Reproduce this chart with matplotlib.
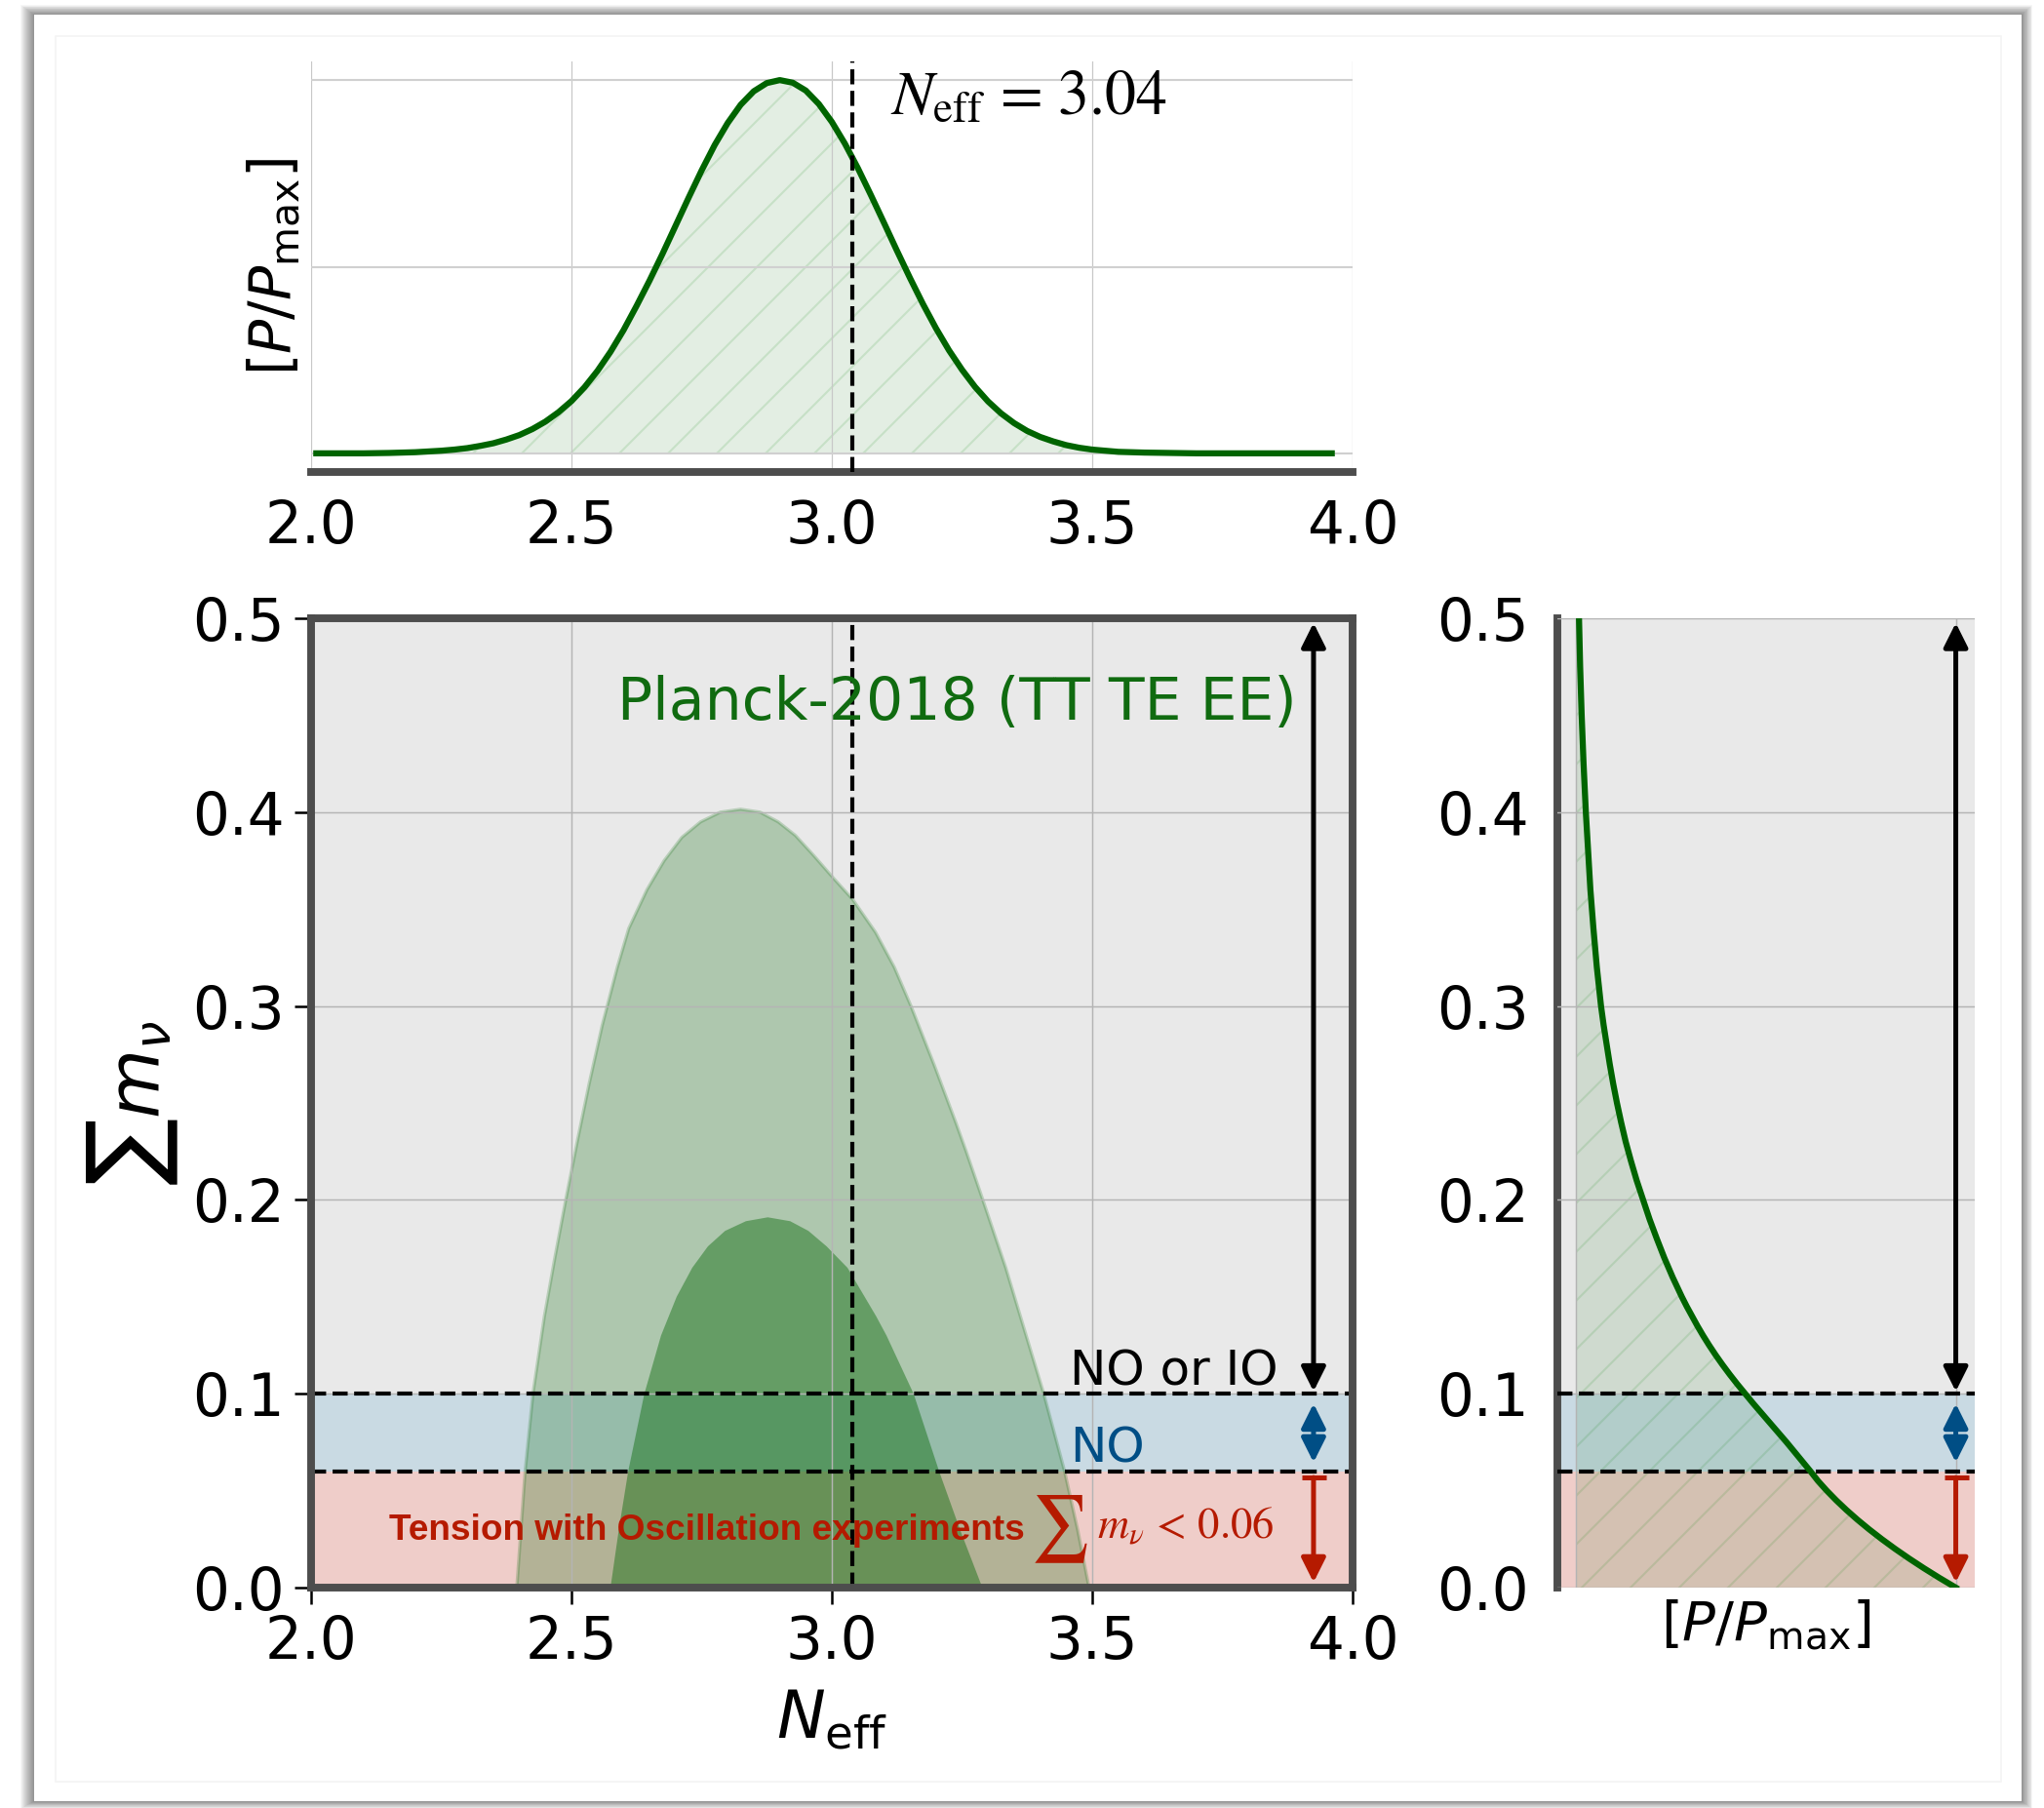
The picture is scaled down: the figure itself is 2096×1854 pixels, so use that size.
import matplotlib
matplotlib.use("Agg")
import matplotlib.pyplot as plt
from matplotlib.patches import Rectangle

plt.rcParams["hatch.linewidth"] = 0.5

# ---------------------------------------------------------------- data
neff_ticks = [2.0, 2.5, 3.0, 3.5, 4.0]
mnu_ticks = [0.0, 0.1, 0.2, 0.3, 0.4, 0.5]
neff_standard = 3.04
band_no = [0.06, 0.10]      # normal ordering only
band_tension = [0.0, 0.06]  # excluded by oscillation experiments
mnu_top = 0.5

# 1D posterior of N_eff (normalised to peak)
neff_x = [2.01, 2.10, 2.15, 2.20, 2.225, 2.25, 2.275, 2.30, 2.325, 2.35,
          2.375, 2.40, 2.425, 2.45, 2.475, 2.50, 2.525, 2.55, 2.575, 2.60,
          2.625, 2.65, 2.675, 2.70, 2.725, 2.75, 2.775, 2.80, 2.825, 2.85,
          2.875, 2.90, 2.925, 2.95, 2.975, 3.00, 3.025, 3.05, 3.075, 3.10,
          3.125, 3.15, 3.175, 3.20, 3.225, 3.25, 3.275, 3.30, 3.325, 3.35,
          3.375, 3.40, 3.425, 3.45, 3.475, 3.50, 3.55, 3.60, 3.70, 3.80,
          3.90, 3.96]
neff_p = [0.000, 0.000, 0.001, 0.003, 0.005, 0.007, 0.010, 0.014, 0.020,
          0.027, 0.037, 0.049, 0.065, 0.085, 0.110, 0.140, 0.177, 0.221,
          0.272, 0.330, 0.395, 0.463, 0.535, 0.610, 0.685, 0.758, 0.826,
          0.885, 0.934, 0.970, 0.992, 1.000, 0.993, 0.972, 0.936, 0.888,
          0.830, 0.764, 0.692, 0.618, 0.543, 0.470, 0.400, 0.335, 0.276,
          0.224, 0.178, 0.139, 0.107, 0.081, 0.060, 0.044, 0.032, 0.022,
          0.015, 0.010, 0.004, 0.002, 0.000, 0.000, 0.000, 0.000]

# 1D posterior of the summed neutrino mass (normalised to peak)
mnu_y = [0.000, 0.005, 0.010, 0.015, 0.020, 0.025, 0.030, 0.035, 0.040,
         0.045, 0.050, 0.055, 0.060, 0.065, 0.070, 0.075, 0.080, 0.085,
         0.090, 0.095, 0.100, 0.105, 0.110, 0.115, 0.120, 0.125, 0.130,
         0.135, 0.140, 0.145, 0.150, 0.160, 0.170, 0.180, 0.190, 0.200,
         0.210, 0.220, 0.230, 0.240, 0.250, 0.260, 0.270, 0.280, 0.290,
         0.300, 0.320, 0.340, 0.360, 0.380, 0.400, 0.425, 0.450, 0.475,
         0.500]
mnu_p = [1.000, 0.957, 0.916, 0.877, 0.840, 0.805, 0.772, 0.741, 0.712,
         0.685, 0.660, 0.637, 0.617, 0.596, 0.575, 0.554, 0.532, 0.510,
         0.488, 0.466, 0.445, 0.424, 0.404, 0.385, 0.367, 0.350, 0.334,
         0.319, 0.305, 0.291, 0.278, 0.254, 0.232, 0.212, 0.193, 0.176,
         0.159, 0.144, 0.130, 0.118, 0.107, 0.097, 0.088, 0.080, 0.072,
         0.065, 0.054, 0.045, 0.037, 0.031, 0.025, 0.019, 0.014, 0.010,
         0.007]

# 2D credible regions in the (N_eff, sum m_nu) plane
c95_neff = [2.395, 2.403, 2.411, 2.426, 2.448, 2.468, 2.489, 2.511, 2.534,
            2.559, 2.588, 2.610, 2.645, 2.678, 2.712, 2.748, 2.786, 2.825,
            2.862, 2.897, 2.930, 2.964, 3.003, 3.040, 3.084, 3.120, 3.152,
            3.196, 3.238, 3.258, 3.290, 3.334, 3.362, 3.407, 3.447, 3.472,
            3.494]
c95_mnu = [0.000, 0.030, 0.060, 0.100, 0.140, 0.170, 0.200, 0.230, 0.260,
           0.290, 0.320, 0.340, 0.360, 0.375, 0.387, 0.395, 0.400, 0.4015,
           0.400, 0.395, 0.388, 0.378, 0.366, 0.355, 0.338, 0.320, 0.300,
           0.270, 0.240, 0.225, 0.200, 0.165, 0.140, 0.100, 0.060, 0.030,
           0.000]
c68_neff = [2.575, 2.591, 2.609, 2.640, 2.672, 2.702, 2.732, 2.762, 2.795,
            2.835, 2.877, 2.920, 2.955, 2.990, 3.030, 3.063, 3.085, 3.105,
            3.157, 3.206, 3.246, 3.289]
c68_mnu = [0.000, 0.030, 0.060, 0.100, 0.130, 0.150, 0.165, 0.176, 0.184,
           0.189, 0.191, 0.189, 0.184, 0.176, 0.165, 0.150, 0.140, 0.130,
           0.100, 0.060, 0.030, 0.000]

# ---------------------------------------------------------------- style
GREEN = "#006400"
TXT_GREEN = "#106b10"
BG = "#e9e9e9"
BLUE_BAND = "#c9dae3"
RED_BAND = "#efcdc9"
BLUE = "#004e85"
RED = "#b51a00"
SPINE = "#4d4d4d"
GRID = "#b4b4b4"
TICK_FS = 14.3
LABEL_FS = 13.5

W, H, DPI = 2096, 1854, 300
fig = plt.figure(figsize=(W / DPI, H / DPI), dpi=DPI)
fig.patch.set_facecolor("white")


def px_rect(x0, y0, x1, y1, **kw):
    """Rectangle given in pixel coordinates measured from the top-left."""
    r = Rectangle((x0 / W, 1 - y1 / H), (x1 - x0) / W, (y1 - y0) / H,
                  transform=fig.transFigure, **kw)
    fig.patches.append(r)
    return r


# page with a soft drop shadow (heavier on the left)
for k in range(14, 0, -1):
    px_rect(35 - k * 1.0, 15 - k * 0.7, 2073 + k * 0.8, 1847 + k * 0.55,
            facecolor="black", edgecolor="none", alpha=0.035, zorder=-20)
px_rect(35, 15, 2073, 1847, facecolor="white", edgecolor="none", zorder=-10)
px_rect(57, 37, 2052, 1827, facecolor="none", edgecolor="#f4f4f4",
        lw=0.4, zorder=-9)

ax_top = fig.add_axes([319 / W, 1 - 484 / H, 1068 / W, 421 / H])
ax = fig.add_axes([319 / W, 1 - 1628 / H, 1068 / W, 994 / H])
ax_r = fig.add_axes([1597 / W, 1 - 1628 / H, 428 / W, 994 / H])

# ---------------------------------------------------------------- main panel
ax.set_facecolor(BG)
ax.set_xlim(neff_ticks[0], neff_ticks[-1])
ax.set_ylim(mnu_ticks[0], mnu_ticks[-1])
ax.set_xticks(neff_ticks)
ax.set_yticks(mnu_ticks)
ax.set_xticklabels([f"{v:.1f}" for v in neff_ticks])
ax.set_yticklabels([f"{v:.1f}" for v in mnu_ticks])
ax.tick_params(labelsize=TICK_FS, length=4, width=0.6, color="black",
               pad=2.5)
ax.grid(True, color=GRID, lw=0.35)
ax.set_axisbelow(False)
for s in ax.spines.values():
    s.set_linewidth(1.9)
    s.set_color(SPINE)
    s.set_zorder(6)

ax.axhspan(*band_tension, color=RED_BAND, lw=0, zorder=0.3)
ax.axhspan(*band_no, color=BLUE_BAND, lw=0, zorder=0.3)

ax.fill(c95_neff, c95_mnu, facecolor=GREEN, alpha=0.25, lw=0, zorder=1)
ax.plot(c95_neff, c95_mnu, color=GREEN, alpha=0.2, lw=0.8, zorder=1.1)
ax.fill(c68_neff, c68_mnu, facecolor=GREEN, alpha=0.42, lw=0, zorder=1.2)

ax.axhline(band_no[1], color="black", ls="--", lw=1.0, zorder=3)
ax.axhline(band_no[0], color="black", ls="--", lw=1.0, zorder=3)
ax.axvline(neff_standard, color="black", ls="--", lw=1.0, zorder=3)

ax.text(3.893, 0.4477, "Planck-2018 (TT TE EE)", color=TXT_GREEN,
        fontsize=14.4, ha="right", va="baseline", zorder=5)
ax.text(3.457, 0.1045, "NO or IO", color="black", fontsize=12,
        ha="left", va="baseline", zorder=5)
ax.text(3.457, 0.0644, "NO", color=BLUE, fontsize=12,
        ha="left", va="baseline", zorder=5)
t_math = ax.text(3.848, 0.0252, r"$m_\nu\,<\,0.06$", color=RED,
                 fontsize=10.7, math_fontfamily="stix", ha="right",
                 va="baseline", zorder=5)
t_sum = ax.annotate("\u2211", xy=(0, 0.5), xycoords=t_math,
                    xytext=(-1.5, -1.0), textcoords="offset points",
                    ha="right", va="center", color=RED, fontsize=11.5,
                    fontfamily="STIXSizeOneSym", zorder=5)
ax.annotate("Tension with Oscillation experiments", xy=(0, 0.5),
            xycoords=t_sum, xytext=(-1.5, 0), textcoords="offset points",
            ha="right", va="center", color=RED, fontsize=8.9,
            fontfamily="Liberation Sans", fontweight="bold", zorder=5)

ax.set_xlabel(r"$N_{\rm eff}$", fontsize=16, labelpad=4)
ax.set_ylabel(r"$\sum m_\nu$", fontsize=17.5, labelpad=3)


def range_arrows(a, xpos):
    kw = dict(mutation_scale=12.5, lw=1.2, shrinkA=0, shrinkB=0)
    a.annotate("", xy=(xpos, band_no[1] + 0.0012),
               xytext=(xpos, mnu_top - 0.0024),
               arrowprops=dict(arrowstyle="<|-|>", color="black", **kw),
               zorder=4)
    a.annotate("", xy=(xpos, band_no[1] - 0.0051),
               xytext=(xpos, band_no[0] + 0.0046),
               arrowprops=dict(arrowstyle="<|-|>", color=BLUE, **kw),
               zorder=4)
    a.annotate("", xy=(xpos, band_tension[0] + 0.0027),
               xytext=(xpos, band_tension[1] - 0.0032),
               arrowprops=dict(arrowstyle="-|>", color=RED, **kw),
               zorder=4)
    a.plot([xpos], [band_tension[1] - 0.0032], marker="_", ms=6, mew=1.2,
           color=RED, zorder=4)


range_arrows(ax, 3.925)

# ---------------------------------------------------------------- top panel
ax_top.set_xlim(neff_ticks[0], neff_ticks[-1])
ax_top.set_ylim(-0.05, 1.05)
ax_top.set_xticks(neff_ticks)
ax_top.set_xticklabels([f"{v:.1f}" for v in neff_ticks])
ax_top.set_yticks([0.0, 0.5, 1.0])
ax_top.set_yticklabels([])
ax_top.tick_params(axis="x", labelsize=TICK_FS, length=0, pad=6.5)
ax_top.tick_params(axis="y", length=0)
ax_top.grid(True, axis="x", color="#c8c8c8", lw=0.3)
ax_top.grid(True, axis="y", color="#d0d0d0", lw=0.5)
for side in ["top", "left", "right"]:
    ax_top.spines[side].set_visible(False)
ax_top.spines["bottom"].set_linewidth(1.9)
ax_top.spines["bottom"].set_color(SPINE)
ax_top.fill_between(neff_x, neff_p, 0, facecolor=(0, 0.4, 0, 0.11),
                    edgecolor=(0, 0.5, 0, 0.12), hatch="//", lw=0, zorder=1)
ax_top.plot(neff_x, neff_p, color=GREEN, lw=1.5, zorder=3)
ax_top.axvline(neff_standard, color="black", ls="--", lw=1.0, zorder=3)
ax_top.text(3.112, 0.911, r"$N_{\rm eff}$ = 3.04", fontsize=15.3,
            math_fontfamily="stix", fontfamily="STIXGeneral",
            ha="left", va="baseline")
ax_top.set_ylabel(r"$[P/P_{\rm max}]$", fontsize=14, labelpad=-1.3)

# ---------------------------------------------------------------- right panel
ax_r.set_facecolor(BG)
ax_r.set_xlim(-0.05, 1.05)
ax_r.set_ylim(mnu_ticks[0], mnu_ticks[-1])
ax_r.set_yticks(mnu_ticks)
ax_r.set_yticklabels([f"{v:.1f}" for v in mnu_ticks])
ax_r.set_xticks([0.0, 1.0])
ax_r.set_xticklabels([])
ax_r.tick_params(axis="y", labelsize=TICK_FS, length=0, pad=7)
ax_r.tick_params(axis="x", length=0)
ax_r.grid(True, color=GRID, lw=0.35)
ax_r.set_axisbelow(False)
for side in ["top", "bottom", "right"]:
    ax_r.spines[side].set_visible(False)
ax_r.spines["left"].set_linewidth(1.9)
ax_r.spines["left"].set_color(SPINE)
ax_r.axhspan(*band_tension, color=RED_BAND, lw=0, zorder=0.3)
ax_r.axhspan(*band_no, color=BLUE_BAND, lw=0, zorder=0.3)
ax_r.fill_betweenx(mnu_y, 0, mnu_p, facecolor=(0, 0.4, 0, 0.11),
                   edgecolor=(0, 0.5, 0, 0.12), hatch="//", lw=0, zorder=1)
ax_r.plot(mnu_p, mnu_y, color=GREEN, lw=1.5, zorder=3.5)
ax_r.axhline(band_no[1], color="black", ls="--", lw=1.0, zorder=3)
ax_r.axhline(band_no[0], color="black", ls="--", lw=1.0, zorder=3)
range_arrows(ax_r, 1.0)
ax_r.set_xlabel(r"$[P/P_{\rm max}]$", fontsize=LABEL_FS, labelpad=-1)

fig.savefig("out.png", dpi=DPI)
